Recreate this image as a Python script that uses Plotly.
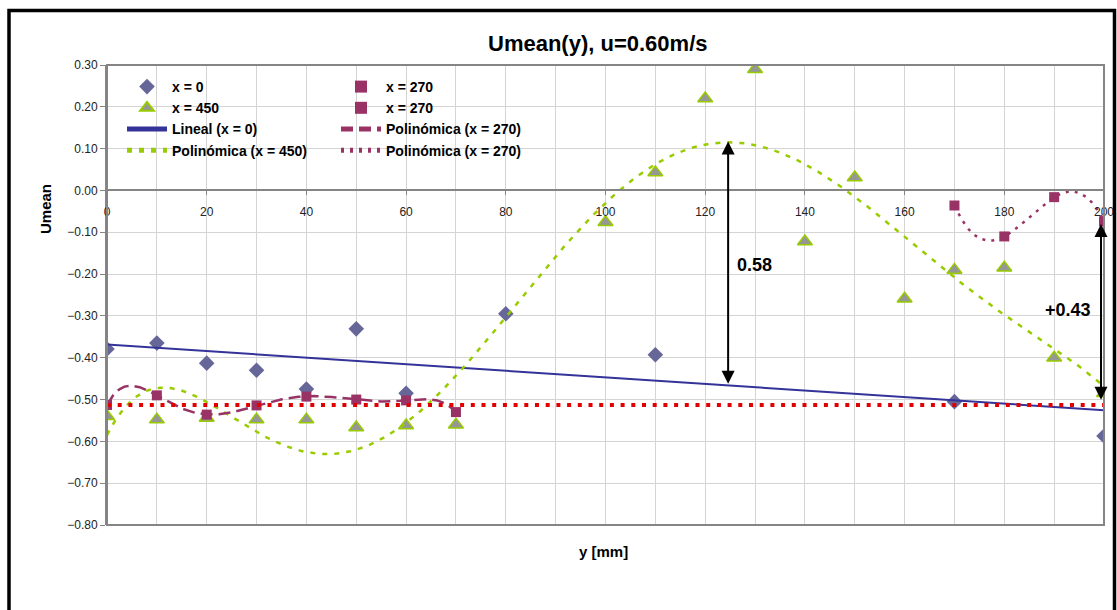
import numpy as np
import plotly.graph_objects as go

# ---------------- data ----------------
y_pos_x0 = [0, 10, 20, 30, 40, 50, 60, 80, 110, 170, 200]
u_x0 = [-0.379, -0.365, -0.413, -0.430, -0.475, -0.331, -0.485, -0.295, -0.393, -0.505, -0.587]

y_pos_x450 = [0, 10, 20, 30, 40, 50, 60, 70, 100, 110, 120, 130, 140, 150, 160, 170, 180, 190, 200]
u_x450 = [-0.540, -0.548, -0.544, -0.548, -0.548, -0.567, -0.562, -0.560, -0.076, 0.043,
          0.220, 0.290, -0.122, 0.031, -0.259, -0.190, -0.185, -0.400, -0.485]

y_pos_x270a = [0, 10, 20, 30, 40, 50, 60, 70]
u_x270a = [-0.513, -0.490, -0.536, -0.514, -0.493, -0.500, -0.502, -0.530]

y_pos_x270b = [170, 180, 190, 200]
u_x270b = [-0.036, -0.110, -0.016, -0.074]

ref_y_pos = [0, 200]
ref_u = [-0.513, -0.513]

arrow_x = [124.6, 199.4]
arrow_top = [0.117, -0.080]
arrow_bottom = [-0.466, -0.504]
arrow_labels = ["0.58", "+0.43"]
label_x = [129.8, 192.8]
label_y = [-0.178, -0.285]

x_ticks = [0, 20, 40, 60, 80, 100, 120, 140, 160, 180, 200]

# ---------------- trend lines (fits of the data) ----------------
def fit(xs, ys, deg, x0, x1):
    xs = np.asarray(xs, float)
    ys = np.asarray(ys, float)
    c = np.polyfit(xs / 100.0, ys, deg)
    xx = np.linspace(x0, x1, 300)
    return xx, np.polyval(c, xx / 100.0)

lin_x, lin_y = fit(y_pos_x0, u_x0, 1, 0, 200)
p450_x, p450_y = fit(y_pos_x450, u_x450, 6, 0, 200)
p270a_x, p270a_y = fit(y_pos_x270a, u_x270a, 6, 0, 70)
p270b_x, p270b_y = fit(y_pos_x270b, u_x270b, 3, 170, 200)

FONT = "Liberation Sans, Arial, sans-serif"
C_DIAM = "#666699"
C_TRI_FILL = "#969696"
C_GREEN = "#99CC00"
C_MAG = "#993366"
C_BLUE = "#333399"
C_RED = "#E00000"

fig = go.Figure()

# markers
fig.add_trace(go.Scatter(x=y_pos_x0, y=u_x0, mode="markers", name="x = 0",
                         marker=dict(symbol="diamond", size=12, color=C_DIAM),
                         legend="legend", legendrank=1))
fig.add_trace(go.Scatter(x=y_pos_x450, y=u_x450, mode="markers", name="x = 450",
                         marker=dict(symbol="triangle-up", size=13, color=C_TRI_FILL,
                                     line=dict(color=C_GREEN, width=1.5)),
                         legend="legend", legendrank=2))
fig.add_trace(go.Scatter(x=y_pos_x270a, y=u_x270a, mode="markers", name="x = 270",
                         marker=dict(symbol="square", size=10, color=C_MAG),
                         legend="legend2", legendrank=1))
fig.add_trace(go.Scatter(x=y_pos_x270b, y=u_x270b, mode="markers", name="x = 270",
                         marker=dict(symbol="square", size=10, color=C_MAG),
                         legend="legend2", legendrank=2))

# trend lines
fig.add_trace(go.Scatter(x=lin_x, y=lin_y, mode="lines", name="Lineal (x = 0)",
                         line=dict(color=C_BLUE, width=2),
                         legend="legend", legendrank=3))
fig.add_trace(go.Scatter(x=p450_x, y=p450_y, mode="lines", name="Polinómica (x = 450)",
                         line=dict(color=C_GREEN, width=2.5, dash="5px,7px"),
                         legend="legend", legendrank=4))
fig.add_trace(go.Scatter(x=p270a_x, y=p270a_y, mode="lines", name="Polinómica (x = 270)",
                         line=dict(color=C_MAG, width=2.5, dash="12px,6px"),
                         legend="legend2", legendrank=3))
fig.add_trace(go.Scatter(x=p270b_x, y=p270b_y, mode="lines", name="Polinómica (x = 270)",
                         line=dict(color=C_MAG, width=2.5, dash="3px,6px"),
                         legend="legend2", legendrank=4))
fig.add_trace(go.Scatter(x=ref_y_pos, y=ref_u, mode="lines", showlegend=False,
                         line=dict(color=C_RED, width=4, dash="4px,6.7px"),
                         hoverinfo="skip"))

# ---------------- layout ----------------
L, R, T, B = 107, 13, 65, 85
W, H = 1117, 610
PW, PH = W - L - R, H - T - B

def px_x(p):
    return (p - L) / PW

def px_y(p):
    return (H - B - p) / PH

ymin, ymax = -0.8, 0.3
zero_pos = (0 - ymin) / (ymax - ymin)

annotations = [
    dict(text="Umean(y), u=0.60m/s", x=px_x(597), y=px_y(43), xref="paper", yref="paper",
         xanchor="center", yanchor="middle", showarrow=False,
         font=dict(size=22, color="black", family=FONT, weight="bold")),
    dict(text="y [mm]", x=px_x(603), y=px_y(551), xref="paper", yref="paper",
         xanchor="center", yanchor="middle", showarrow=False,
         font=dict(size=15, color="black", family=FONT, weight="bold")),
    dict(text="Umean", x=px_x(45), y=px_y(209), xref="paper", yref="paper",
         xanchor="center", yanchor="middle", showarrow=False, textangle=-90,
         font=dict(size=15, color="black", family=FONT, weight="bold")),
]
for ax_, top_, bot_ in zip(arrow_x, arrow_top, arrow_bottom):
    annotations.append(dict(x=ax_, y=top_, ax=ax_, ay=bot_, xref="x", yref="y",
                            axref="x", ayref="y", text="", showarrow=True,
                            arrowhead=2, startarrowhead=2, arrowside="end+start",
                            arrowsize=1.3, startarrowsize=1.3, arrowwidth=2, arrowcolor="black"))
for lx, ly, lt in zip(label_x, label_y, arrow_labels):
    annotations.append(dict(x=lx, y=ly, xref="x", yref="y", text=lt,
                            xanchor="center", yanchor="middle", showarrow=False,
                            font=dict(size=18, color="black", family=FONT, weight="bold")))

shapes = [
    # white background behind legend (hides gridlines)
    dict(type="rect", xref="paper", yref="paper", x0=px_x(108), x1=px_x(545),
         y0=px_y(166), y1=px_y(66), fillcolor="white", line=dict(width=0), layer="below"),
    # plot area border
    dict(type="rect", xref="paper", yref="paper", x0=0, x1=1, y0=0, y1=1,
         line=dict(color="#858585", width=2), layer="above"),
    # outer frame
    dict(type="rect", xref="paper", yref="paper", x0=px_x(9), x1=px_x(1114.5),
         y0=px_y(640), y1=px_y(10.5), line=dict(color="black", width=3.5), layer="above"),
]

legend_font = dict(size=14, color="black", family=FONT, weight="bold")

fig.update_layout(
    width=W, height=H, autosize=False,
    margin=dict(l=L, r=R, t=T, b=B, pad=0, autoexpand=False),
    paper_bgcolor="white", plot_bgcolor="white",
    font=dict(family=FONT, size=12, color="#222222"),
    showlegend=True,
    legend=dict(x=px_x(122), y=px_y(71), xanchor="left", yanchor="top",
                bgcolor="rgba(0,0,0,0)", borderwidth=0, font=legend_font,
                tracegroupgap=0, itemsizing="constant", traceorder="normal",
                itemwidth=40),
    legend2=dict(x=px_x(336), y=px_y(71), xanchor="left", yanchor="top",
                 bgcolor="rgba(0,0,0,0)", borderwidth=0, font=legend_font,
                 tracegroupgap=0, itemsizing="constant", traceorder="normal",
                 itemwidth=40),
    xaxis=dict(range=[0, 200], tickmode="array", tickvals=x_ticks,
               ticktext=[str(v) for v in x_ticks],
               anchor="free", position=zero_pos, side="bottom", automargin=False,
               showline=True, linecolor="#858585", linewidth=2,
               ticks="outside", ticklen=4, tickcolor="#858585", tickwidth=1,
               ticklabelstandoff=6,
               showgrid=True, gridcolor="#d4d4d4", gridwidth=1,
               minor=dict(dtick=10, showgrid=True, gridcolor="#d4d4d4", gridwidth=1),
               zeroline=False, tickfont=dict(size=12, color="#222222", family=FONT)),
    yaxis=dict(range=[ymin, ymax], dtick=0.1, tick0=0, tickformat=".2f", automargin=False,
               showline=True, linecolor="#858585", linewidth=2,
               ticks="outside", ticklen=5, tickcolor="#858585", tickwidth=1,
               showgrid=True, gridcolor="#d4d4d4", gridwidth=1,
               zeroline=False, tickfont=dict(size=12, color="#222222", family=FONT)),
    annotations=annotations,
    shapes=shapes,
)

fig.write_html(
    "out.html",
    config={"responsive": False, "displayModeBar": False},
    post_script="document.body.style.margin='0';document.body.style.overflow='hidden';",
)
